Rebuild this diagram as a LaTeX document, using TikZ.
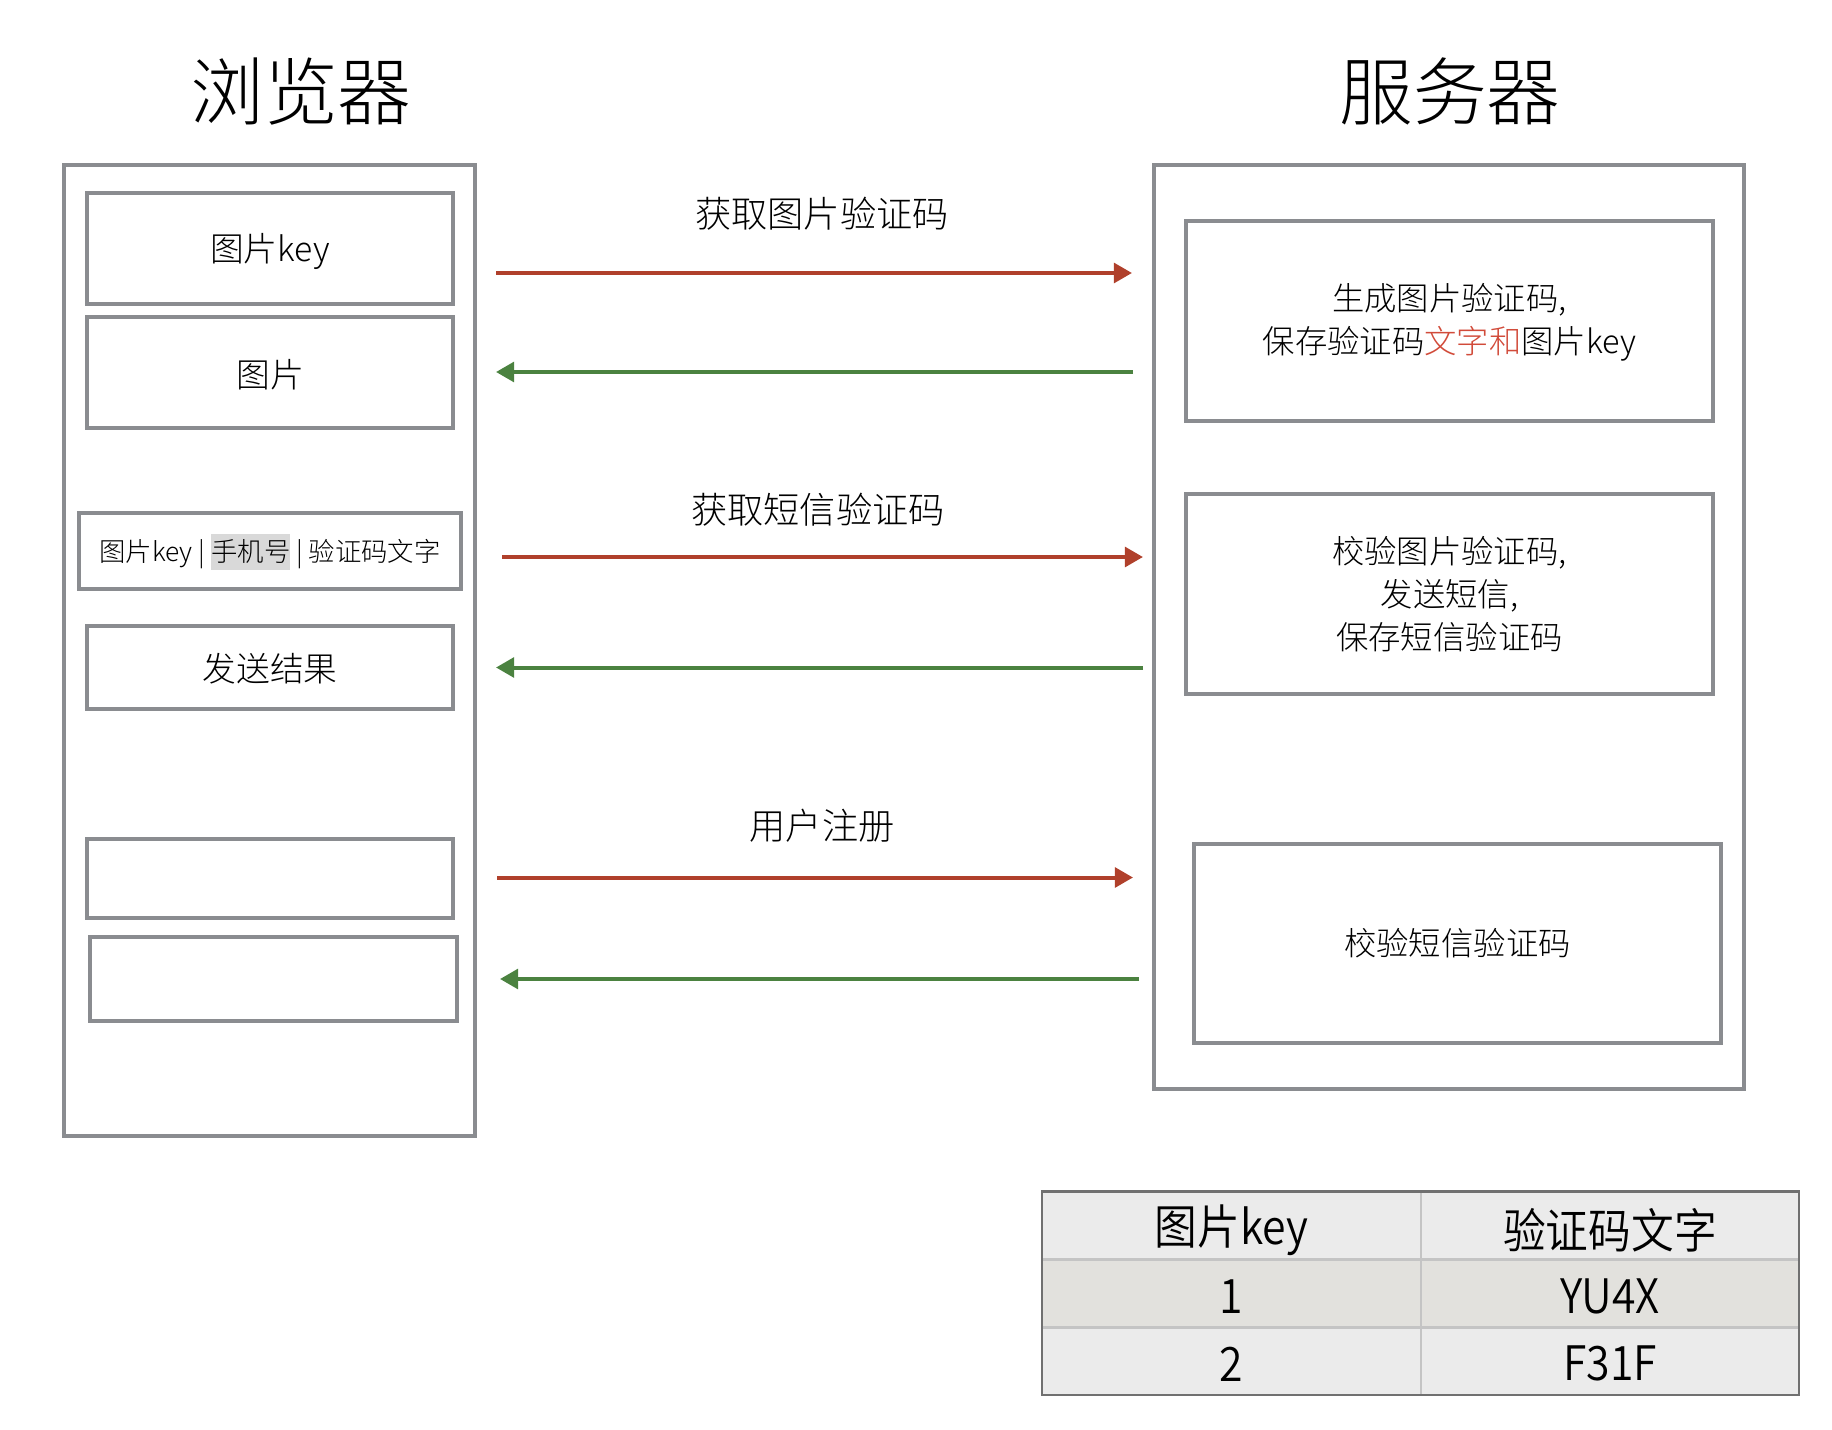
\documentclass[tikz,border=0pt]{standalone}
\usepackage{fontspec}
\setmainfont{Noto Sans CJK SC Light}
\newfontfamily\titlefont{Noto Sans CJK SC Light}
\newfontfamily\tablefont[FakeStretch=0.9]{Noto Sans CJK SC DemiLight}
\usetikzlibrary{arrows.meta}

\definecolor{boxgray}{HTML}{8A8C90}
\definecolor{reqred}{HTML}{B0402B}
\definecolor{respgreen}{HTML}{4B8240}
\definecolor{hilite}{HTML}{D9D9D9}
\definecolor{markred}{HTML}{D14B3A}
\definecolor{headfill}{HTML}{EBEBEB}
\definecolor{rowfill}{HTML}{E2E1DD}
\definecolor{gridline}{HTML}{C4C4C4}
\definecolor{tableedge}{HTML}{707070}

% gray background behind a word, no horizontal padding
\newcommand\graymark[1]{{\setlength\fboxsep{0pt}\colorbox{hilite}{\rule[-0.3em]{0pt}{1.35em}#1}}}
% lower a label a little while keeping its box size
\newcommand\lowered[2]{\raisebox{-#1}[\height][\depth]{#2}}

\begin{document}
\begin{tikzpicture}[x=0.01cm,y=-0.01cm,
  panel/.style={draw=boxgray, line width=0.04cm, inner sep=0pt, outer sep=0pt},
  title/.style={font=\titlefont\fontsize{21}{25}\selectfont, inner sep=0pt},
  msglabel/.style={font=\fontsize{10.3}{12}\selectfont, inner sep=0pt},
  cbox/.style={panel, font=\fontsize{9.6}{12}\selectfont},
  sbox/.style={panel, align=center, font=\fontsize{9.2}{12.3}\selectfont},
  req/.style={draw=reqred, line width=0.04cm, -{Triangle[length=0.18cm, width=0.195cm]}},
  resp/.style={draw=respgreen, line width=0.04cm, -{Triangle[length=0.18cm, width=0.195cm]}},
  cell/.style={inner sep=0pt, outer sep=0pt, minimum height=0.677cm,
    font=\tablefont\fontsize{13.5}{16}\selectfont},
  cola/.style={cell, minimum width=3.79cm},
  colb/.style={cell, minimum width=3.78cm}
]
\useasboundingbox (0,0) rectangle (1832,1430);

% column titles
\node[title] (tbrowser) at (301,91.7) {浏览器};
\node[title] (tserver) at (1450,91.7) {服务器};

% browser side
\node[panel, minimum width=4.107cm, minimum height=9.704cm] (browser) at (269.65,650.5) {};
\node[cbox, minimum width=3.654cm, minimum height=1.107cm] (bkey) at (270,248.65) {\lowered{0.8pt}{图片key}};
\node[cbox, minimum width=3.654cm, minimum height=1.107cm] (bimg) at (270,372.65) {\lowered{0.5pt}{图片}};
\node[panel, minimum width=3.814cm, minimum height=0.766cm,
      font=\fontsize{7.5}{9}\selectfont] (bform) at (270,551)
      {\lowered{0.3pt}{图片key | \graymark{手机号} | 验证码文字}};
\node[cbox, minimum width=3.654cm, minimum height=0.829cm] (bres) at (270,667.7) {\lowered{0.3pt}{发送结果}};
\node[cbox, minimum width=3.654cm, minimum height=0.795cm] (bblank1) at (270,878.6) {};
\node[cbox, minimum width=3.668cm, minimum height=0.842cm] (bblank2) at (273.4,979.1) {};

% server side
\node[panel, minimum width=5.90cm, minimum height=9.24cm] (server) at (1449,627) {};
\node[sbox, minimum width=5.27cm, minimum height=2.00cm] (sgen) at (1449.5,321)
  {\lowered{0.6pt}{\begin{tabular}{@{}c@{}}生成图片验证码,\\保存验证码\textcolor{markred}{文字和}图片key\end{tabular}}};
\node[sbox, minimum width=5.27cm, minimum height=2.00cm] (ssms) at (1449.5,594)
  {校验图片验证码,\\发送短信,\\保存短信验证码};
\node[sbox, minimum width=5.27cm, minimum height=1.99cm] (sreg) at (1457.5,943.5)
  {校验短信验证码};

% message arrows
\coordinate (m1a) at (496,273);   \coordinate (m1b) at (1132,273);
\coordinate (m2a) at (1133,372);  \coordinate (m2b) at (496,372);
\coordinate (m3a) at (502,557);   \coordinate (m3b) at (1143,557);
\coordinate (m4a) at (1143,667.5);\coordinate (m4b) at (496,667.5);
\coordinate (m5a) at (497,877.5); \coordinate (m5b) at (1133,877.5);
\coordinate (m6a) at (1139,979);  \coordinate (m6b) at (500,979);

\draw[req]  (m1a) -- (m1b);
\draw[resp] (m2a) -- (m2b);
\draw[req]  (m3a) -- (m3b);
\draw[resp] (m4a) -- (m4b);
\draw[req]  (m5a) -- (m5b);
\draw[resp] (m6a) -- (m6b);

\node[msglabel] (l1) at (822,214) {获取图片验证码};
\node[msglabel] (l2) at (818,510) {获取短信验证码};
\node[msglabel] (l3) at (822,825.5) {用户注册};

% key table
\node[cola, fill=headfill] (h1) at (1231.5,1225.6) {\lowered{1.4pt}{图片key}};
\node[colb, fill=headfill] (h2) at (1610,1225.6) {\lowered{1.4pt}{验证码文字}};
\node[cola, fill=rowfill]  (r1a) at (1231.5,1293.4) {\lowered{1pt}{1}};
\node[colb, fill=rowfill]  (r1b) at (1610,1293.4) {\lowered{1pt}{YU4X}};
\node[cola, fill=headfill] (r2a) at (1231.5,1361.1) {\lowered{0.8pt}{2}};
\node[colb, fill=headfill] (r2b) at (1610,1361.1) {\lowered{0.8pt}{F31F}};

\draw[gridline, line width=0.025cm] (h1.south west) -- (h2.south east);
\draw[gridline, line width=0.025cm] (r1a.south west) -- (r1b.south east);
\draw[gridline, line width=0.025cm] (h1.north east) -- (r2a.south east);
\draw[tableedge, line width=0.025cm] (h1.north west) rectangle (r2b.south east);
\end{tikzpicture}
\end{document}
